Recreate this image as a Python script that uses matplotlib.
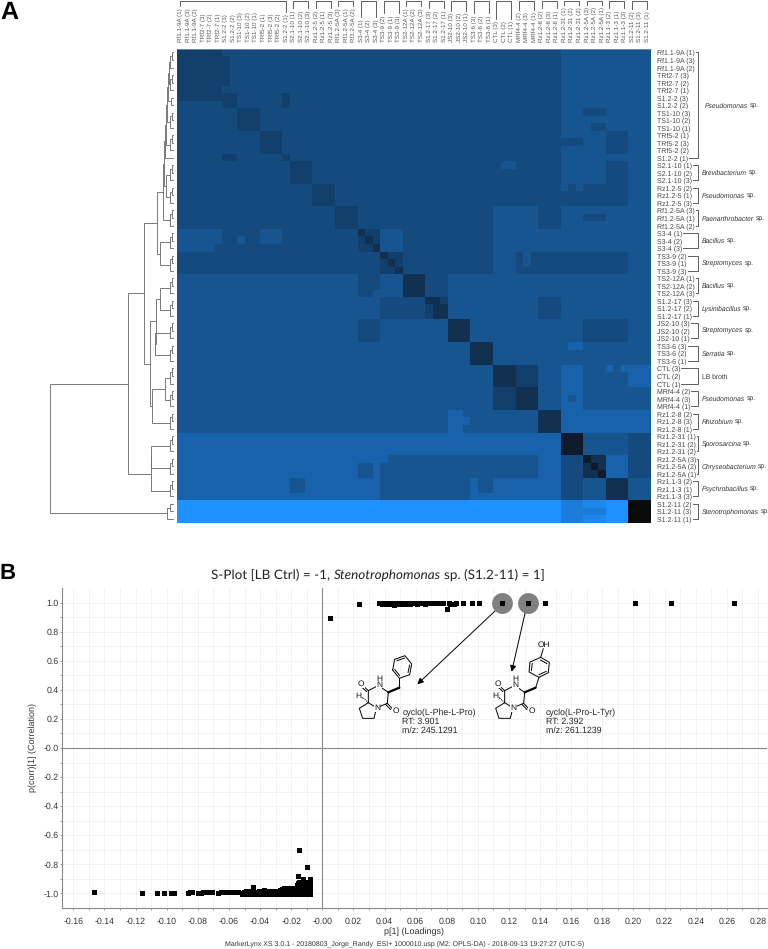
import math
import matplotlib
matplotlib.use("Agg")
import numpy as np
import matplotlib.pyplot as plt
from matplotlib.colors import ListedColormap, BoundaryNorm

W, H = 768, 949
SANS = "Liberation Sans"
plt.rcParams["font.family"] = [SANS, "DejaVu Sans"]
plt.rcParams["text.hinting"] = "no_hinting"

# ---------- Panel A data ----------
LABELS = """Rf1.1-9A (1)|Rf1.1-9A (3)|Rf1.1-9A (2)|TRf2-7 (3)|TRf2-7 (2)|TRf2-7 (1)|S1.2-2 (3)|S1.2-2 (2)|TS1-10 (3)|TS1-10 (2)|TS1-10 (1)|TRf5-2 (1)|TRf5-2 (3)|TRf5-2 (2)|S1.2-2 (1)|S2.1-10 (1)|S2.1-10 (2)|S2.1-10 (3)|Rz1.2-5 (2)|Rz1.2-5 (1)|Rz1.2-5 (3)|Rf1.2-5A (3)|Rf1.2-5A (1)|Rf1.2-5A (2)|S3-4 (1)|S3-4 (2)|S3-4 (3)|TS3-9 (2)|TS3-9 (1)|TS3-9 (3)|TS2-12A (1)|TS2-12A (2)|TS2-12A (3)|S1.2-17 (3)|S1.2-17 (2)|S1.2-17 (1)|JS2-10 (3)|JS2-10 (2)|JS2-10 (1)|TS3-6 (3)|TS3-6 (2)|TS3-6 (1)|CTL (3)|CTL (2)|CTL (1)|MRf4-4 (2)|MRf4-4 (3)|MRf4-4 (1)|Rz1.2-8 (2)|Rz1.2-8 (3)|Rz1.2-8 (1)|Rz1.2-31 (1)|Rz1.2-31 (2)|Rz1.2-31 (2)|Rz1.2-5A (3)|Rz1.2-5A (2)|Rz1.2-5A (1)|Rz1.1-3 (2)|Rz1.1-3 (1)|Rz1.1-3 (3)|S1.2-11 (2)|S1.2-11 (3)|S1.2-11 (1)""".split("|")

# (first row, last row, genus, italic)
GROUPS = [(0, 14, "Pseudomonas", True), (15, 17, "Brevibacterium", True), (18, 20, "Pseudomonas", True),
          (21, 23, "Paenarthrobacter", True), (24, 26, "Bacillus", True), (27, 29, "Streptomyces", True),
          (30, 32, "Bacillus", True), (33, 35, "Lysinibacillus", True), (36, 38, "Streptomyces", True),
          (39, 41, "Serratia", True), (42, 44, "LB broth", False), (45, 47, "Pseudomonas", True),
          (48, 50, "Rhizobium", True), (51, 53, "Sporosarcina", True), (54, 56, "Chryseobacterium", True),
          (57, 59, "Psychrobacillus", True), (60, 62, "Stenotrophomonas", True)]

LEVEL_COLORS = ["#0b0b0b", "#0f1a2b", "#12304f", "#123f6c", "#154a7e", "#165590",
                "#1862ab", "#1b7cd9", "#1d87ea", "#1e90ff"]

# distance-matrix levels, run-length coded "level*count" per row
HEAT_RUNS = [
 "3*6 4*45 5*12", "3*7 4*44 5*12", "3*7 4*44 5*12", "3*7 4*44 5*12", "3*7 4*44 5*12", "3*6 4*45 5*12",
 "3*8 4*6 3*1 4*36 5*12", "4*6 3*2 4*6 3*1 4*36 5*12",
 "4*8 3*3 4*40 5*3 4*3 5*6", "4*8 3*3 4*40 5*12", "4*8 3*3 4*40 5*4 4*2 5*6",
 "4*11 3*3 4*37 5*6 4*3 5*3", "4*11 3*3 4*40 5*3 4*3 5*3", "4*11 3*3 4*37 5*6 4*3 5*3",
 "4*6 3*2 4*6 3*1 4*36 5*12",
 "4*15 3*3 4*25 5*2 4*6 5*6 4*3 5*3", "4*15 3*3 4*33 5*6 4*3 5*3", "4*15 3*3 4*33 5*6 4*3 5*3",
 "4*18 3*3 4*30 5*1 4*1 5*1 4*6 5*3", "4*18 3*3 4*39 5*3", "4*18 3*3 4*39 5*3",
 "4*21 3*3 4*18 5*6 4*3 5*12", "4*21 3*3 4*18 5*6 4*3 5*3 4*3 5*6", "4*21 3*3 4*18 5*6 4*3 5*12",
 "5*6 4*5 5*3 4*10 2*1 3*2 5*3 4*12 5*21", "5*6 4*2 5*1 4*2 5*3 4*10 3*1 2*1 3*1 5*3 4*12 5*21",
 "5*5 4*19 3*2 2*1 5*3 4*12 5*21",
 "4*27 2*1 3*2 4*12 5*3 4*1 5*1 4*13 5*3", "4*27 3*1 2*1 3*1 4*12 5*3 4*1 5*1 4*13 5*3",
 "4*27 3*2 2*1 4*12 5*3 4*15 5*3",
 "5*24 4*3 5*3 2*3 4*3 5*27", "5*24 4*3 5*3 2*3 4*3 5*27", "5*24 4*2 5*4 2*3 4*3 5*27",
 "5*27 4*6 2*2 3*1 5*12 4*3 5*12", "5*27 4*6 3*1 2*2 5*12 4*3 5*12", "5*27 4*6 3*1 2*2 5*12 4*3 5*12",
 "5*24 4*3 5*9 2*3 5*15 4*6 5*3", "5*24 4*3 5*9 2*3 5*15 4*6 5*3", "5*24 4*3 5*9 2*3 5*15 4*6 5*3",
 "5*39 2*3 5*10 6*2 5*9", "5*39 2*3 5*21", "5*39 2*3 5*21",
 "5*42 2*3 3*3 5*3 6*3 5*3 6*1 5*1 6*4", "5*42 2*3 3*3 5*3 6*3 5*6 6*3", "5*42 2*3 3*3 5*3 6*3 5*6 6*3",
 "5*42 3*3 2*3 5*3 6*3 5*9", "5*42 3*3 2*3 5*3 6*1 5*1 6*1 5*9", "5*42 3*3 2*3 5*3 6*3 5*9",
 "5*36 6*2 5*10 2*3 6*12", "5*36 6*3 5*9 2*3 6*12", "5*36 6*2 5*10 2*3 6*12",
 "6*51 1*3 5*6 4*3", "6*51 1*3 5*6 4*3", "6*51 1*3 5*6 4*3",
 "6*28 5*20 6*3 4*3 1*1 2*2 6*3 4*3", "6*24 5*2 6*1 5*21 6*3 4*3 2*1 1*1 2*1 6*3 4*3",
 "6*24 5*2 6*1 5*21 6*3 4*3 2*2 1*1 6*3 4*3",
 "6*15 5*2 6*10 5*12 6*1 5*2 6*9 4*3 5*3 2*3 5*3", "6*15 5*2 6*10 5*12 6*1 5*2 6*9 4*3 5*3 2*3 5*3",
 "6*27 5*12 6*12 4*3 5*3 2*3 5*3",
 "9*51 7*3 8*3 9*3 0*3", "9*51 7*6 9*3 0*3", "9*51 7*3 8*3 9*3 0*3",
]

# dendrogram: clusters of rows and merge heights (pixels-of-distance left of the heat map)
TRIPLET_STARTS = [0, 3, 8, 11, 15, 18, 21, 24, 27, 30, 33, 36, 39, 42, 45, 48, 51, 54, 57]
PAIR_HEIGHT, TRIPLET_HEIGHT = 5.0, 6.2
# (name, child a, child b, height); children are cluster names
MERGES = [
 ("n1", "c0", "c3", 7.7), ("n2", "n1", "p6", 8.3), ("n3", "n2", "c8", 9.7), ("n4", "n3", "c11", 11.0),
 ("n5", "n4", "r14", 11.7), ("n6", "c15", "c18", 10.7), ("n7", "n5", "n6", 12.7), ("n8", "n7", "c21", 13.3),
 ("n9", "c24", "c27", 16.3), ("n10", "n8", "n9", 19.3), ("n11", "c30", "c33", 16.7),
 ("n12", "c36", "c39", 21.7), ("n13", "n11", "n12", 20.7), ("n14", "c42", "c45", 11.7),
 ("n15", "n14", "c48", 24.7), ("n16", "n13", "n15", 26.3), ("n17", "n10", "n16", 32.7),
 ("n18", "c51", "c54", 25.7), ("n19", "n18", "c57", 26.0), ("n20", "n17", "n19", 48.3),
 ("n21", "p60", "r62", 9.7), ("root", "n20", "n21", 127.0),
]

# ---------- Panel B data ----------
TOP_X = [0.0049, 0.0238, 0.0366, 0.0374, 0.0381, 0.0389, 0.0398, 0.0406, 0.0413, 0.0421, 0.0430, 0.0437, 0.0445,
         0.0452, 0.0461, 0.0469, 0.0477, 0.0484, 0.0492, 0.0500, 0.0509, 0.0517, 0.0524, 0.0532, 0.0541, 0.0549,
         0.0557, 0.0565, 0.0573, 0.0582, 0.0590, 0.0598, 0.0607, 0.0615, 0.0623, 0.0632, 0.0640, 0.0649, 0.0657,
         0.0666, 0.0675, 0.0684, 0.0693, 0.0703, 0.0712, 0.0722, 0.0733, 0.0746, 0.0774, 0.0799, 0.0812, 0.0823,
         0.0835, 0.0848, 0.0859, 0.0902, 0.0962, 0.1009, 0.1157, 0.1324, 0.1429, 0.2010, 0.2241, 0.2644]
TOP_Y = [0.897, 0.990, 1.000, 1.000, 0.995, 1.000, 0.995, 1.000, 1.000, 0.995, 1.000, 0.990, 1.000,
         0.995, 0.985, 0.995, 1.000, 0.990, 0.995, 1.000, 0.995, 1.000, 1.000, 0.995, 1.000, 1.000,
         1.000, 0.995, 1.000, 1.000, 1.000, 1.000, 0.995, 1.000, 1.000, 1.000, 1.000, 1.000, 0.995,
         1.000, 1.000, 1.000, 1.000, 1.000, 1.000, 1.000, 1.000, 1.000, 1.000, 0.955, 1.000, 0.995,
         0.995, 0.990, 1.000, 1.000, 1.000, 1.000, 1.000, 1.000, 1.000, 1.000, 1.000, 1.000]
BOT_X = [-0.1467, -0.1157, -0.1065, -0.1018, -0.0975, -0.0953, -0.0861, -0.0850, -0.0840, -0.0797, -0.0780,
         -0.0765, -0.0748, -0.0733, -0.0720, -0.0711, -0.0668, -0.0652, -0.0636, -0.0620, -0.0604, -0.0590,
         -0.0574, -0.0560, -0.0545, -0.0518, -0.0505, -0.0492, -0.0480, -0.0466, -0.0443, -0.0452, -0.0435,
         -0.0420, -0.0405, -0.0390, -0.0375, -0.0360, -0.0345, -0.0330, -0.0315, -0.0300, -0.0285, -0.0270,
         -0.0518, -0.0495, -0.0470, -0.0445, -0.0420, -0.0395, -0.0370, -0.0345, -0.0320, -0.0295, -0.0270,
         -0.0258, -0.0245, -0.0232, -0.0220, -0.0208, -0.0196, -0.0184, -0.0172, -0.0160, -0.0148, -0.0136,
         -0.0124, -0.0112, -0.0100, -0.0088, -0.0076, -0.0258, -0.0245, -0.0232, -0.0220, -0.0208, -0.0196,
         -0.0184, -0.0172, -0.0160, -0.0148, -0.0136, -0.0124, -0.0112, -0.0100, -0.0088, -0.0076, -0.0245,
         -0.0232, -0.0220, -0.0208, -0.0196, -0.0184, -0.0172, -0.0160, -0.0148, -0.0136, -0.0124, -0.0112,
         -0.0100, -0.0088, -0.0078, -0.0160, -0.0152, -0.0140, -0.0128, -0.0118, -0.0108, -0.0096, -0.0084,
         -0.0078, -0.0154, -0.0148, -0.0130, -0.0096, -0.0082, -0.0159, -0.0124, -0.0079, -0.0101, -0.0148,
         -0.0150, -0.0140, -0.0115, -0.0105, -0.0090, -0.0080]
BOT_Y = [-0.995, -1.000, -1.000, -1.000, -1.000, -1.000, -1.000, -0.995, -0.990, -1.000, -1.000,
         -0.995, -0.995, -0.990, -0.990, -0.990, -1.000, -0.995, -0.995, -0.995, -0.990, -0.995,
         -0.995, -0.990, -0.990, -1.000, -0.995, -0.985, -0.985, -0.990, -0.960, -0.990, -0.990,
         -0.990, -0.985, -0.985, -0.980, -0.985, -0.985, -0.985, -0.985, -0.985, -0.985, -0.980,
         -1.005, -1.005, -1.005, -1.005, -1.005, -1.005, -1.005, -1.005, -1.005, -1.005, -1.005,
         -0.970, -0.965, -0.965, -0.965, -0.965, -0.965, -0.965, -0.965, -0.965, -0.965, -0.965,
         -0.965, -0.965, -0.965, -0.965, -0.965, -1.005, -1.005, -1.005, -1.005, -1.005, -1.005,
         -1.005, -1.005, -1.005, -1.005, -1.005, -1.005, -1.005, -1.005, -1.005, -1.005, -0.985,
         -0.985, -0.985, -0.985, -0.985, -0.985, -0.985, -0.985, -0.985, -0.985, -0.985, -0.985,
         -0.985, -0.985, -0.985, -0.945, -0.950, -0.945, -0.950, -0.945, -0.950, -0.945, -0.950,
         -0.945, -0.930, -0.925, -0.925, -0.925, -0.925, -0.880, -0.905, -0.900, -0.820, -0.705,
         -0.935, -0.930, -0.940, -0.935, -0.930, -0.925]
HIGHLIGHT_X = [0.1157, 0.1324]
HIGHLIGHT_Y = [1.0, 1.0]
XTICK_VALUES = [-0.16, -0.14, -0.12, -0.10, -0.08, -0.06, -0.04, -0.02, 0.0, 0.02, 0.04, 0.06, 0.08, 0.10, 0.12,
                0.14, 0.16, 0.18, 0.20, 0.22, 0.24, 0.26, 0.28]
XTICK_LABELS = ["-0.16", "-0.14", "-0.12", "-0.10", "-0.08", "-0.06", "-0.04", "-0.02", "-0.00", "0.02", "0.04",
                "0.06", "0.08", "0.10", "0.12", "0.14", "0.16", "0.18", "0.20", "0.22", "0.24", "0.26", "0.28"]
YTICK_VALUES = [1.0, 0.8, 0.6, 0.4, 0.2, 0.0, -0.2, -0.4, -0.6, -0.8, -1.0]
YTICK_LABELS = ["1.0", "0.8", "0.6", "0.4", "0.2", "-0.0", "-0.2", "-0.4", "-0.6", "-0.8", "-1.0"]


def make_axes(x0, y0, x1, y1, **kw):
    return fig.add_axes([x0 / W, 1 - y1 / H, (x1 - x0) / W, (y1 - y0) / H], **kw)


fig = plt.figure(figsize=(W / 100, H / 100), dpi=100)

# overlay in pixel coordinates for annotations
ov = make_axes(0, 0, W, H, zorder=10)
ov.set_xlim(0, W)
ov.set_ylim(H, 0)
ov.axis("off")
ov.patch.set_alpha(0)

# ---------- heat map ----------
HX0, HY0, HS = 176.67, 48.7, 474.0


def expand(row):
    out = []
    for t in row.split():
        lev, n = t.split("*")
        out += [int(lev)] * int(n)
    return out


matrix = np.array([expand(r) for r in HEAT_RUNS])
axh = make_axes(HX0, HY0, HX0 + HS, HY0 + HS)
axh.imshow(matrix, cmap=ListedColormap(LEVEL_COLORS), norm=BoundaryNorm(np.arange(-0.5, 10), 10),
           aspect="auto", interpolation="nearest")
for k, s in axh.spines.items():
    s.set_visible(k == "top")
axh.spines["top"].set_color("#6f97bb")
axh.spines["top"].set_linewidth(0.6)
idx = np.arange(63)
axh.set_xticks(idx)
axh.set_xticklabels(LABELS, rotation=90, fontsize=4.5, color="#555555")
axh.set_yticks(idx)
axh.set_yticklabels(LABELS, fontsize=5.0, color="#444444")
axh.xaxis.tick_top()
axh.yaxis.tick_right()
axh.tick_params(axis="x", length=0, pad=5)
axh.tick_params(axis="y", length=0, pad=4.2)

# ---------- dendrogram ----------
cell = HS / 63
axd = make_axes(0, HY0, HX0, HY0 + HS)
axd.set_xlim(HX0, 0)
axd.set_ylim(63, 0)
axd.axis("off")
LEAF = 4.0
DCOL = "#707070"
nodes = {f"r{i}": (i + 0.5, LEAF) for i in range(63)}


def merge(name, a, b, h):
    ya, ha = nodes[a]
    yb, hb = nodes[b]
    axd.plot([ha, h, h, hb], [ya, ya, yb, yb], color=DCOL, lw=0.65, solid_joinstyle="miter")
    nodes[name] = ((ya + yb) / 2, h)


for s in TRIPLET_STARTS:
    merge(f"q{s}", f"r{s}", f"r{s+1}", PAIR_HEIGHT)
    merge(f"c{s}", f"q{s}", f"r{s+2}", TRIPLET_HEIGHT)
merge("p6", "r6", "r7", 5.3)
merge("p60", "r60", "r61", 7.0)
for name, a, b, h in MERGES:
    merge(name, a, b, h)

# ---------- panel B ----------
axs = make_axes(62, 588, 767, 908)
axs.set_xlim(-0.1673, 0.2858)
axs.set_ylim(-1.102, 1.102)
axs.set_xticks(XTICK_VALUES)
axs.set_xticklabels(XTICK_LABELS, fontsize=6.3, color="#333333")
axs.set_yticks(YTICK_VALUES)
axs.set_yticklabels(YTICK_LABELS, fontsize=6.3, color="#333333")
axs.set_xticks(np.arange(-16, 29) / 100, minor=True)
axs.set_yticks(np.arange(-10, 11) / 10, minor=True)
axs.grid(which="both", color="#ededed", lw=0.5)
axs.set_axisbelow(True)
axs.tick_params(axis="x", which="both", color="#888888", length=1.7, width=0.6, pad=4.8)
axs.tick_params(axis="y", which="both", color="#888888", length=1.7, width=0.6, pad=0.8)
for k in ("top", "right"):
    axs.spines[k].set_visible(False)
for k in ("left", "bottom"):
    axs.spines[k].set_color("#888888")
    axs.spines[k].set_linewidth(0.8)
axs.axhline(0, color="#888888", lw=0.8, zorder=1.5)
axs.axvline(0, color="#888888", lw=0.8, zorder=1.5)
axs.scatter(HIGHLIGHT_X, HIGHLIGHT_Y, s=225, color="#808080", linewidths=0, zorder=2)
axs.plot(TOP_X, TOP_Y, ls="none", marker="s", ms=3.6, mew=0, color="black", zorder=3)
axs.plot(BOT_X, BOT_Y, ls="none", marker="s", ms=3.6, mew=0, color="black", zorder=3)

for (x0, y0, x1, y1) in [(495, 611, 417.3, 684.3), (525, 613.3, 511.7, 671.7)]:
    ov.annotate("", xy=(x1, y1), xytext=(x0, y0),
                arrowprops=dict(arrowstyle="-|>", lw=0.7, color="black", mutation_scale=9, shrinkA=0, shrinkB=0))


def P(zx, zy):
    return 300 + zx / 3, 570 + zy / 3


def poly(pts, lw=0.7, **kw):
    p = np.array([P(*q) for q in pts])
    ov.plot(p[:, 0], p[:, 1], color="black", lw=lw, solid_capstyle="round", **kw)


def atom(zx, zy, s):
    x, y = P(zx, zy)
    ov.text(x, y, s, fontsize=6, ha="center", va="center", color="#111111",
            bbox=dict(fc="white", ec="none", pad=0.2))


def core(dx, top):
    poly([(top[0], top[1]), (265 + dx, 367)], lw=1.6)
    poly([(265 + dx, 367), (243 + dx, 352)])
    poly([(228 + dx, 350), (205 + dx, 362), (205 + dx, 398), (224 + dx, 410)])
    poly([(238 + dx, 410), (262 + dx, 400), (265 + dx, 367)])
    poly([(205 + dx, 362), (191 + dx, 349)])
    poly([(200 + dx, 365), (186 + dx, 352)])
    poly([(262 + dx, 400), (277 + dx, 416)])
    poly([(257 + dx, 403), (272 + dx, 419)])
    poly([(205 + dx, 398), (178 + dx, 415), (188 + dx, 445), (222 + dx, 445), (228 + dx, 420)])
    poly([(205 + dx, 398), (190 + dx, 384)], ls=(0, (1, 1)))
    atom(184 + dx, 342, "O")
    atom(237 + dx, 346, "N")
    ov.text(*P(238 + dx, 327), "H", fontsize=6, ha="center", va="center", color="#111111")
    ov.text(*P(180 + dx, 378), "H,", fontsize=6, ha="center", va="center", color="#111111")
    atom(231 + dx, 413, "N")
    atom(287 + dx, 423, "O")


# cyclo(L-Phe-L-Pro)
core(0, (298, 353))
poly([(278, 300), (284, 268), (315, 257), (335, 282), (329, 314), (298, 325), (278, 300)])
poly([(291, 272), (314, 264)])
poly([(329, 285), (324, 308)])
poly([(299, 317), (284, 298)])
poly([(298, 325), (298, 355)])
# cyclo(L-Pro-L-Tyr)
core(409, (707, 353))
poly([(722, 262), (748, 277), (745, 308), (717, 322), (687, 306), (690, 276), (722, 262)])
poly([(721, 270), (741, 281)])
poly([(739, 304), (717, 314)])
poly([(694, 302), (697, 280)])
poly([(717, 322), (707, 353)])
poly([(722, 262), (730, 236)])
ov.text(*P(733, 224), "OH", fontsize=6, ha="center", va="center", color="#111111")

for x, lines in [(402.3, ["cyclo(L-Phe-L-Pro)", "RT: 3.901", "m/z: 245.1291"]),
                 (545.7, ["cyclo(L-Pro-L-Tyr)", "RT: 2.392", "m/z: 261.1239"])]:
    for y, t in zip([712.7, 721.5, 730.5], lines):
        ov.text(x, y, t, fontsize=6.3, va="center", ha="left", color="#222222")

# axis labels and footer
ov.text(33, 748, "p(corr)[1] (Correlation)", rotation=90, fontsize=6.5, ha="center", va="center", color="#333333")
ov.text(414, 932, "p[1] (Loadings)", fontsize=6.5, ha="center", va="center", color="#333333")
ov.text(405, 943.5, "MarkerLynx XS 3.0.1 - 20180803_Jorge_Randy  ESI+ 1000010.usp (M2: OPLS-DA) - 2018-09-13 19:27:27 (UTC-5)",
        fontsize=5.0, ha="center", va="center", color="#333333")

ov.text(0.5, 12.5, "A", fontsize=18, fontweight="bold", ha="left", va="center", color="black")
ov.text(-0.5, 573.5, "B", fontsize=16, fontweight="bold", ha="left", va="center", color="black")

# finish: items positioned from measured text
fig.canvas.draw()
rend = fig.canvas.get_renderer()


def sequence(x, y, pieces, fontsize, family, color, gap=0.25):
    """pieces = [(text, style)] set one after another on one pixel baseline y"""
    base = round(y)
    for t, st in pieces:
        a = ov.text(x, base, t, fontsize=fontsize, family=family, style=st, ha="left", va="baseline", color=color)
        d = rend.get_text_width_height_descent(t, a.get_fontproperties(), False)[2]
        a.set_y(base + math.ceil(d) - d)
        x = a.get_window_extent(rend).x1 + gap * fontsize * 100 / 72
    return x


sequence(211, 578, [("S-Plot [LB Ctrl) = -1,", "normal"), ("Stenotrophomonas", "italic"),
                    ("sp. (S1.2-11) = 1]", "normal")], 9.7, "Lato", "#222222")

ytl = axh.get_yticklabels()
xtl = axh.get_xticklabels()
BR = "#444444"
for i, (a, b, name, ital) in enumerate(GROUPS):
    ya, yb = HY0 + cell * (a + 0.5), HY0 + cell * (b + 0.5)
    xa = ytl[a].get_window_extent(rend).x1 + 1.5
    xb = ytl[b].get_window_extent(rend).x1 + 1.5
    ov.plot([xa, 698, 698, xb], [ya, ya, yb, yb], color=BR, lw=0.6)
    x = 705 if i == 0 else 702
    pieces = [(name, "italic"), ("sp.", "normal")] if ital else [(name, "normal")]
    sequence(x, (ya + yb) / 2 + 1.6, pieces, 4.85, SANS, "#333333", gap=0.2)
    xa = HX0 + cell * (a + 0.5)
    xb = HX0 + cell * (b + 0.5)
    ta = H - xtl[a].get_window_extent(rend).y1 - 2
    tb = H - xtl[b].get_window_extent(rend).y1 - 2
    ov.plot([xa, xa, xb, xb], [ta, 0.5, 0.5, tb], color=BR, lw=0.6)

fig.savefig("out.png", dpi=100)
